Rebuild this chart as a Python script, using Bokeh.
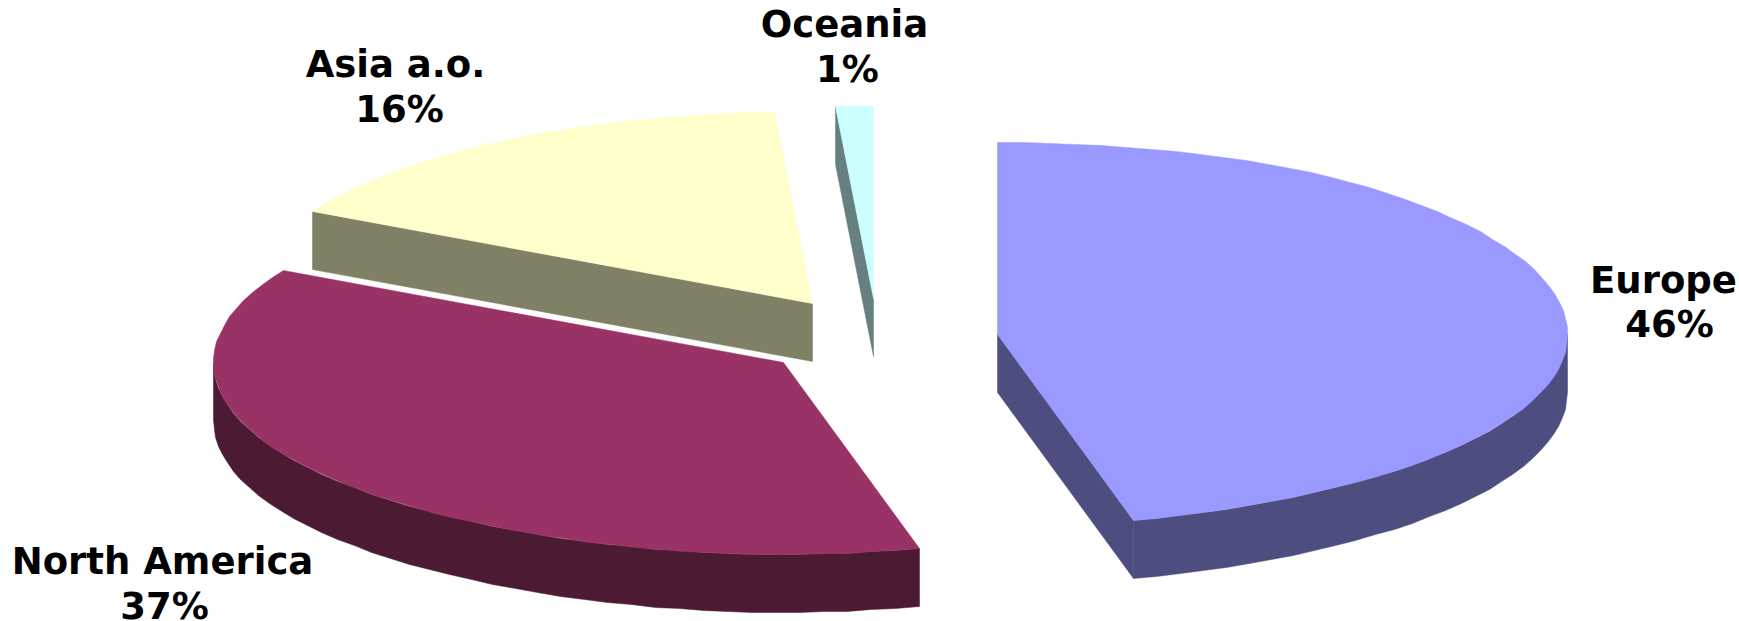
import numpy as np
from bokeh.core.properties import value
from bokeh.embed import file_html
from bokeh.plotting import figure
from bokeh.resources import INLINE

# Share of each region, clockwise from twelve o'clock
regions = ["Europe", "North America", "Asia a.o.", "Oceania"]
shares = [46, 37, 16, 1]
top_colors = ["#9999FF", "#993366", "#FFFFCC", "#CCFFFF"]
side_colors = ["#4D4D80", "#4D1A33", "#808066", "#668080"]

# Pie geometry in page pixels
RX, RY, DEPTH = 570, 192, 58
ARC_STEP = 2.5   # degrees per straight facet of the rim
apex = {
    "Europe": (997, 334),
    "North America": (783, 362),
    "Asia a.o.": (812, 303),
    "Oceania": (873, 298),
}
# Name x, name baseline, percentage x, percentage baseline
label_lines = {
    "Europe": (1663, 280, 1669, 324),
    "North America": (162, 561, 164, 606),
    "Asia a.o.": (395, 64, 399, 109),
    "Oceania": (844, 24, 847, 69),
}
draw_order = ["North America", "Asia a.o.", "Oceania", "Europe"]

p = figure(
    width=1739, height=621, x_range=(0, 1739), y_range=(621, 0),
    output_backend="svg", toolbar_location=None, min_border=0,
    outline_line_color=None, background_fill_color="white",
)
p.axis.visible = False
p.grid.visible = False


def rim_point(cx, cy, deg):
    rad = np.radians(deg)
    # Far side of the disc reads a little wider than the near side
    widen = 1 + 0.05 * np.cos(rad) ** 5
    return np.round(cx + RX * np.sin(rad) * widen), np.round(cy - RY * np.cos(rad))


def arc(cx, cy, lo, hi):
    count = max(int((hi - lo) / ARC_STEP) + 1, 2)
    return rim_point(cx, cy, np.linspace(lo, hi, count))


def fill(xs, ys, color):
    p.patch(list(xs), list(ys), fill_color=color, line_color=color, line_width=0.5)


edges = np.cumsum([0] + shares) * 3.6
spans = {r: (edges[i], edges[i + 1]) for i, r in enumerate(regions)}

for region in draw_order:
    i = regions.index(region)
    cx, cy = apex[region]
    a0, a1 = spans[region]

    # Curved outer wall, only where it turns towards the viewer
    lo, hi = max(a0, 90), min(a1, 270)
    if hi > lo:
        ax, ay = arc(cx, cy, lo, hi)
        fill(np.r_[ax, ax[::-1]], np.r_[ay, ay[::-1] + DEPTH], side_colors[i])

    # Straight cut wall on the edge that faces the front
    cut = {"Europe": a1, "Asia a.o.": a0, "Oceania": a0}.get(region)
    if cut is not None:
        ex, ey = rim_point(cx, cy, cut)
        fill([cx, ex, ex, cx], [cy, ey, ey + DEPTH, cy + DEPTH], side_colors[i])

    # Top face
    ax, ay = arc(cx, cy, a0, a1)
    fill(np.r_[cx, ax], np.r_[cy, ay], top_colors[i])

for i, region in enumerate(regions):
    x1, y1, x2, y2 = label_lines[region]
    for text, x, y in ((region, x1, y1), (f"{shares[i]}%", x2, y2)):
        p.text(
            [x], [y], text=[text], text_font=value("DejaVu Sans"),
            text_font_style="bold", text_font_size="37px", text_color="black",
            text_align="center", text_baseline="alphabetic",
        )

open("out.html", "w").write(file_html(p, INLINE))
